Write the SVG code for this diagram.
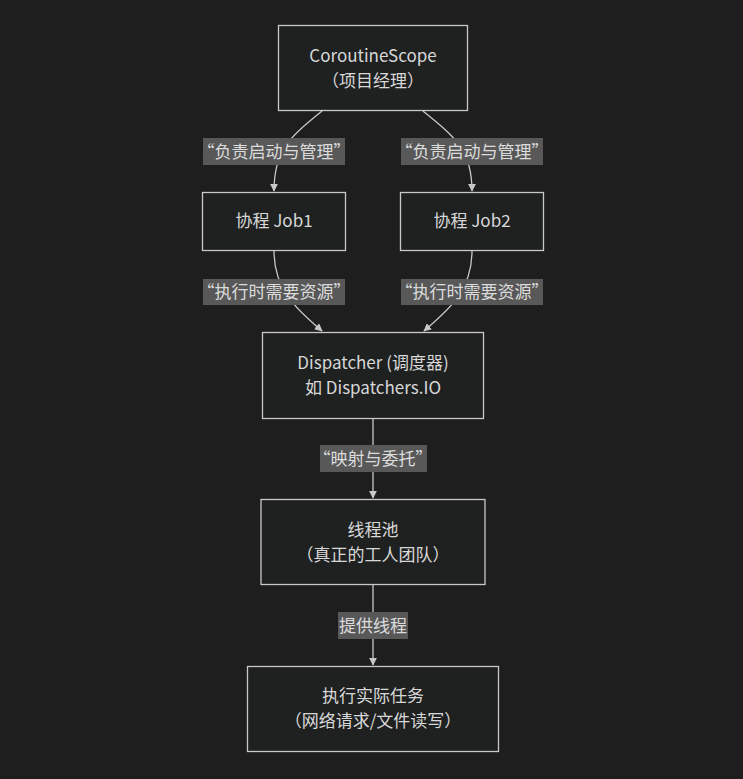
<svg xmlns="http://www.w3.org/2000/svg" width="743" height="779" viewBox="0 0 743 779">
<style>
.bg{fill:#1e1e1e}
.node rect{fill:#1f2121;stroke:#c8c8c8;stroke-width:1.3}
text{font-family:"Noto Sans CJK SC","Liberation Sans",sans-serif;font-size:17px;fill:#d8d8d8;text-anchor:middle;dominant-baseline:central}
.edge{fill:none;stroke:#c8c8c8;stroke-width:1.3}
.lbl rect{fill:#585858}
.lbl text{fill:#dcdcdc}
</style>
<defs>
<marker id="arr" viewBox="0 0 10 10" refX="9" refY="5" markerWidth="8" markerHeight="8" markerUnits="userSpaceOnUse" orient="auto">
<path d="M0,0 L10,5 L0,10 z" fill="#c8c8c8"/>
</marker>
</defs>
<rect class="bg" width="743" height="779"/>
<g id="connectors">
<path class="edge" d="M322,111 C290,137 274,150 274,191" marker-end="url(#arr)"/>
<path class="edge" d="M423,111 C455,137 472,150 472,191" marker-end="url(#arr)"/>
<path class="edge" d="M274,251 C274,292 300,312 322,331" marker-end="url(#arr)"/>
<path class="edge" d="M472,251 C472,292 446,312 424,331" marker-end="url(#arr)"/>
<path class="edge" d="M373,418 L373,498" marker-end="url(#arr)"/>
<path class="edge" d="M373,585 L373,665" marker-end="url(#arr)"/>
</g>
<g id="edge-labels">
<g class="lbl"><rect x="203" y="138" width="142" height="27"/><text x="274" y="150">“负责启动与管理”</text></g>
<g class="lbl"><rect x="401" y="138" width="142" height="27"/><text x="472" y="150">“负责启动与管理”</text></g>
<g class="lbl"><rect x="203" y="279" width="142" height="26"/><text x="274" y="290.5">“执行时需要资源”</text></g>
<g class="lbl"><rect x="401" y="279" width="142" height="26"/><text x="472" y="290.5">“执行时需要资源”</text></g>
<g class="lbl"><rect x="320" y="445" width="107" height="27"/><text x="373" y="457">“映射与委托”</text></g>
<g class="lbl"><rect x="338" y="612" width="70" height="27"/><text x="373" y="624">提供线程</text></g>
</g>
<g id="scope" class="node"><rect x="278.5" y="25.5" width="189" height="85"/><text x="373" y="54">CoroutineScope</text><text x="373" y="79">（项目经理）</text></g>
<g id="job1" class="node"><rect x="202.5" y="192.5" width="143" height="58"/><text x="274" y="219.5">协程 Job1</text></g>
<g id="job2" class="node"><rect x="400.5" y="192.5" width="143" height="58"/><text x="472" y="219.5">协程 Job2</text></g>
<g id="dispatcher" class="node"><rect x="262.5" y="332.5" width="221" height="86"/><text x="373" y="361.5">Dispatcher (调度器)</text><text x="373" y="386.5">如 Dispatchers.IO</text></g>
<g id="pool" class="node"><rect x="261" y="499.5" width="224" height="85"/><text x="373" y="528">线程池</text><text x="373" y="553">（真正的工人团队）</text></g>
<g id="exec" class="node"><rect x="247.5" y="666.5" width="251" height="85"/><text x="373" y="694.5">执行实际任务</text><text x="373" y="719.5">（网络请求/文件读写）</text></g>
</svg>
